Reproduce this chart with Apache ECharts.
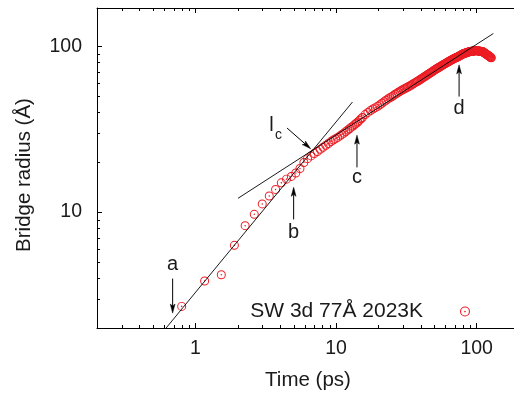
<!DOCTYPE html>
<html>
<head>
<meta charset="utf-8">
<script src="https://cdn.jsdelivr.net/npm/echarts@6/dist/echarts.min.js"></script>
<style>
html,body{margin:0;padding:0;background:#fff;}
#chart{width:514px;height:396px;}
</style>
</head>
<body>
<div id="chart"></div>
<script>
// Simulation samples: time (ps) and bridge radius (Å)
const timePs = [
  0.80, 1.165, 1.53, 1.895, 2.26, 2.625, 2.99, 3.355, 3.72, 4.085,
  4.45, 4.815, 5.18, 5.545, 5.91, 6.275, 6.64, 7.005, 7.37, 7.735,
  8.10, 8.465, 8.83, 9.195, 9.56, 9.925, 10.29, 10.655, 11.02, 11.385,
  11.75, 12.115, 12.48, 12.845, 13.21, 13.575, 13.94, 14.305, 14.67, 15.035,
  15.4,
  16.13, 16.86, 17.59, 18.32, 19.05, 19.78, 20.51, 21.24, 21.97, 22.70,
  23.43, 24.16, 24.89, 25.62, 26.35, 27.08, 27.81, 28.54, 29.27, 30.00,
  30.73, 31.46, 32.19, 32.92, 33.65, 34.38, 35.11, 35.84, 36.57, 37.30,
  38.03, 38.76, 39.49, 40.22, 40.95, 41.68, 42.41, 43.14, 43.87, 44.60,
  45.33, 46.06, 46.79, 47.52, 48.25, 48.98, 49.71, 50.44, 51.17, 51.90,
  52.63, 53.36, 54.09, 54.82, 55.55, 56.28, 57.01, 57.74, 58.47, 59.20,
  59.93, 60.66, 61.39, 62.12, 62.85, 63.58, 64.31, 65.04, 65.77, 66.50,
  67.23, 67.96, 68.69, 69.42, 70.15, 70.88, 71.61, 72.34, 73.07, 73.80,
  74.53, 75.26, 75.99, 76.72, 77.45, 78.18, 78.91, 79.64, 80.37, 81.10,
  81.83, 82.56, 83.29, 84.02, 84.75, 85.48, 86.21, 86.94, 87.67, 88.40,
  89.13, 89.86, 90.59, 91.32, 92.05, 92.78, 93.51, 94.24, 94.97, 95.70,
  96.43, 97.16, 97.89, 98.62, 99.35, 100.08, 100.81, 101.54, 102.27, 103.00,
  103.73, 104.46, 105.19, 105.92, 106.65, 107.38, 108.11, 108.84, 109.57, 110.30,
  111.03, 111.76, 112.49, 113.22, 113.95, 114.68, 115.41, 116.14, 116.87, 117.60,
  118.33, 119.06, 119.79, 120.52, 121.25, 121.98, 122.71, 123.44, 124.17, 124.90,
  125.63, 126.36, 127.09
];
const radiusA = [
  2.70, 3.84, 4.19, 6.30, 8.28, 9.69, 11.2, 12.5, 13.7, 15.0,
  15.8, 16.4, 17.2, 18.3, 19.9, 21.0, 21.8, 22.55, 23.2, 23.9,
  24.6, 25.25, 25.9, 26.6, 27.2, 27.7, 28.2, 28.8, 29.4, 29.9,
  30.6, 31.2, 31.8, 32.5, 33.0, 33.7, 34.3, 34.9, 35.7, 36.5,
  37.2,
  38.7, 39.9, 40.9, 41.8, 42.6, 43.4, 44.3, 45.3, 46.3, 47.2,
  48.1, 48.9, 49.6, 50.4, 51.3, 52.0, 52.8, 53.5, 54.2, 54.8,
  55.4, 56.0, 56.6, 57.2, 57.8, 58.4, 59.1, 59.7, 60.3, 60.9,
  61.5, 62.1, 62.7, 63.4, 64.0, 64.7, 65.3, 65.9, 66.6, 67.2,
  67.8, 68.4, 69.0, 69.6, 70.2, 70.8, 71.4, 72.0, 72.6, 73.1,
  73.7, 74.2, 74.7, 75.2, 75.7, 76.2, 76.7, 77.2, 77.7, 78.2,
  78.6, 79.1, 79.6, 80.1, 80.5, 81.0, 81.4, 81.9, 82.4, 82.8,
  83.2, 83.6, 84.0, 84.4, 84.7, 85.1, 85.4, 85.8, 86.1, 86.5,
  86.9, 87.3, 87.7, 88.1, 88.5, 88.9, 89.3, 89.7, 90.0, 90.3,
  90.5, 90.7, 91.0, 91.2, 91.4, 91.7, 91.9, 92.1, 92.3, 92.6,
  92.8, 92.9, 93.0, 93.1, 93.2, 93.3, 93.4, 93.5, 93.5, 93.6,
  93.7, 93.8, 93.9, 94.0, 94.1, 94.0, 93.9, 93.8, 93.7, 93.6,
  93.5, 93.4, 93.3, 93.2, 93.1, 93.0, 92.9, 92.8, 92.7, 92.6,
  92.5, 92.1, 91.7, 91.4, 91.0, 90.7, 90.3, 90.0, 89.6, 89.3,
  88.9, 88.6, 88.3, 88.0, 87.7, 87.3, 87.0, 86.7, 86.3, 86.0,
  85.7, 85.4, 85.1
];

// Power-law guide lines, given by their end points
const fitEarlyT = [0.62, 13.1];
const fitEarlyR = [2.0, 46.1];
const fitLateT = [2.01, 131.4];
const fitLateR = [12.1, 119.3];

// Minor tick positions on the logarithmic axes
const minorTicksT = [0.3, 0.4, 0.5, 0.6, 0.7, 0.8, 0.9, 2, 3, 4, 5, 6, 7, 8, 9, 20, 30, 40, 50, 60, 70, 80, 90];
const minorTicksR = [3, 4, 5, 6, 7, 8, 9, 20, 30, 40, 50, 60, 70, 80, 90];

// Annotations: arrow tails and heads, letter labels
const arrowTail = [[0.69, 3.97], [5.0, 9.03], [14.1, 18.6], [75, 49.7], [4.49, 32.1]];
const arrowHead = [[0.69, 2.46], [5.0, 14.1], [14.1, 29.1], [75, 77.2], [6.60, 24.1]];
const noteLabels = ['a', 'b', 'c', 'd', 'l', 'c'];
const notePos = [[0.69, 4.80], [5.0, 7.52], [14.1, 16.24], [75, 42.4], [3.48, 33.3], [3.91, 29.1]];
const noteSize = [20, 20, 20, 20, 20, 14];

const seriesName = 'SW 3d 77Å 2023K';
const FONT = '"Liberation Sans", Arial, Helvetica, sans-serif';
const RED = '#ec1c24';
const ringPath = 'path://M10,0A10,10,0,1,1,-10,0A10,10,0,1,1,10,0Z' +
  'M7.8,0A7.8,7.8,0,1,0,-7.8,0A7.8,7.8,0,1,0,7.8,0Z' +
  'M1.7,0A1.7,1.7,0,1,1,-1.7,0A1.7,1.7,0,1,1,1.7,0Z';

const points = timePs.map((t, i) => [t, radiusA[i]]);

const axisCommon = {
  type: 'log', logBase: 10,
  axisLine: { show: true, lineStyle: { color: '#000', width: 1 } },
  axisTick: { show: true, inside: true, length: 5, lineStyle: { color: '#000', width: 1 } },
  splitLine: { show: false },
  minorTick: { show: false },
  minorSplitLine: { show: false }
};

const chart = echarts.init(document.getElementById('chart'), null, { renderer: 'canvas' });
chart.setOption({
  animation: false,
  backgroundColor: '#fff',
  // the frame runs a little past the right edge of the canvas
  grid: { left: 97, top: 8, width: 422, height: 320, containLabel: false, outerBoundsMode: 'none' },
  legend: {
    data: [seriesName],
    right: 44, top: 301,
    align: 'right',
    padding: 0,
    itemWidth: 10, itemHeight: 10,
    icon: ringPath,
    selectedMode: false,
    textStyle: { fontSize: 21, color: '#1a1a1a', fontFamily: FONT, padding: [0, 32, 0, 0] }
  },
  xAxis: [
    Object.assign({}, axisCommon, {
      position: 'bottom', min: 0.2, max: 200,
      name: 'Time (ps)', nameLocation: 'middle', nameGap: 42,
      nameTextStyle: { fontSize: 20.5, color: '#1a1a1a', fontFamily: FONT, padding: [0, 0, 0, 0] },
      axisLabel: { show: true, margin: 11, fontSize: 19.5, color: '#1a1a1a', fontFamily: FONT,
        showMinLabel: false, showMaxLabel: false }
    }),
    Object.assign({}, axisCommon, {
      position: 'top', min: 0.2, max: 200,
      axisLabel: { show: false }
    })
  ],
  yAxis: [
    Object.assign({}, axisCommon, {
      position: 'left', min: 2, max: 170,
      name: 'Bridge radius (Å)', nameLocation: 'middle', nameGap: 62,
      nameTextStyle: { fontSize: 20.5, color: '#1a1a1a', fontFamily: FONT, padding: [0, 14, 0, 0] },
      axisLabel: { show: true, margin: 15, fontSize: 19.5, color: '#1a1a1a', fontFamily: FONT,
        showMinLabel: false, showMaxLabel: false }
    })
  ],
  series: [
    {
      name: seriesName,
      type: 'scatter',
      data: points,
      symbol: ringPath,
      symbolSize: 9,
      itemStyle: { color: RED, opacity: 1 },
      silent: true,
      z: 2
    },
    {
      type: 'line',
      data: fitEarlyT.map((t, i) => [t, fitEarlyR[i]]),
      showSymbol: false, symbol: 'none',
      lineStyle: { color: '#000', width: 0.9 },
      silent: true, z: 3
    },
    {
      type: 'line',
      data: fitLateT.map((t, i) => [t, fitLateR[i]]),
      showSymbol: false, symbol: 'none',
      lineStyle: { color: '#000', width: 0.9 },
      silent: true, z: 3
    },
    {
      // minor ticks on the time axes (bottom and top)
      type: 'custom', silent: true, clip: false, z: 4,
      data: minorTicksT.map(v => [v, 2]),
      encode: { x: 0, y: 1 },
      renderItem: function (params, api) {
        const cs = params.coordSys;
        const x = Math.round(api.coord([api.value(0), api.value(1)])[0]) + 0.5;
        const yb = cs.y + cs.height, yt = cs.y;
        return { type: 'group', children: [
          { type: 'line', shape: { x1: x, y1: yb, x2: x, y2: yb - 3 }, style: { stroke: '#000', lineWidth: 1 } },
          { type: 'line', shape: { x1: x, y1: yt, x2: x, y2: yt + 3 }, style: { stroke: '#000', lineWidth: 1 } }
        ] };
      }
    },
    {
      // minor ticks on the radius axis
      type: 'custom', silent: true, clip: false, z: 4,
      data: minorTicksR.map(v => [0.2, v]),
      encode: { x: 0, y: 1 },
      renderItem: function (params, api) {
        const cs = params.coordSys;
        const y = Math.round(api.coord([api.value(0), api.value(1)])[1]) + 0.5;
        return { type: 'group', children: [
          { type: 'line', shape: { x1: cs.x, y1: y, x2: cs.x + 3, y2: y }, style: { stroke: '#000', lineWidth: 1 } },
          { type: 'line', shape: { x1: cs.x + cs.width, y1: y, x2: cs.x + cs.width - 3, y2: y }, style: { stroke: '#000', lineWidth: 1 } }
        ] };
      }
    },
    {
      // annotation arrows
      type: 'custom', silent: true, clip: false, z: 5,
      data: arrowTail.map((p, i) => [p[0], p[1], arrowHead[i][0], arrowHead[i][1]]),
      encode: { x: [0, 2], y: [1, 3] },
      renderItem: function (params, api) {
        const p0 = api.coord([api.value(0), api.value(1)]);
        const p1 = api.coord([api.value(2), api.value(3)]);
        const dx = p1[0] - p0[0], dy = p1[1] - p0[1];
        const len = Math.sqrt(dx * dx + dy * dy);
        const ux = dx / len, uy = dy / len;
        const nx = -uy, ny = ux;
        const L = 9, W = 2.4, N = 7;
        const head = [
          [p1[0], p1[1]],
          [p1[0] - ux * L + nx * W, p1[1] - uy * L + ny * W],
          [p1[0] - ux * N, p1[1] - uy * N],
          [p1[0] - ux * L - nx * W, p1[1] - uy * L - ny * W]
        ];
        return { type: 'group', children: [
          { type: 'line', shape: { x1: p0[0], y1: p0[1], x2: p1[0] - ux * N, y2: p1[1] - uy * N },
            style: { stroke: '#000', lineWidth: 1 } },
          { type: 'polygon', shape: { points: head }, style: { fill: '#000', stroke: '#000', lineWidth: 0.5 } }
        ] };
      }
    },
    {
      // annotation letters
      type: 'custom', silent: true, clip: false, z: 5,
      data: notePos,
      encode: { x: 0, y: 1 },
      renderItem: function (params, api) {
        const p = api.coord([api.value(0), api.value(1)]);
        const i = params.dataIndex;
        return {
          type: 'text', x: p[0], y: p[1],
          style: { text: noteLabels[i], fill: '#1a1a1a', align: 'center', verticalAlign: 'middle',
            font: noteSize[i] + 'px ' + FONT }
        };
      }
    }
  ]
});
</script>
</body>
</html>
